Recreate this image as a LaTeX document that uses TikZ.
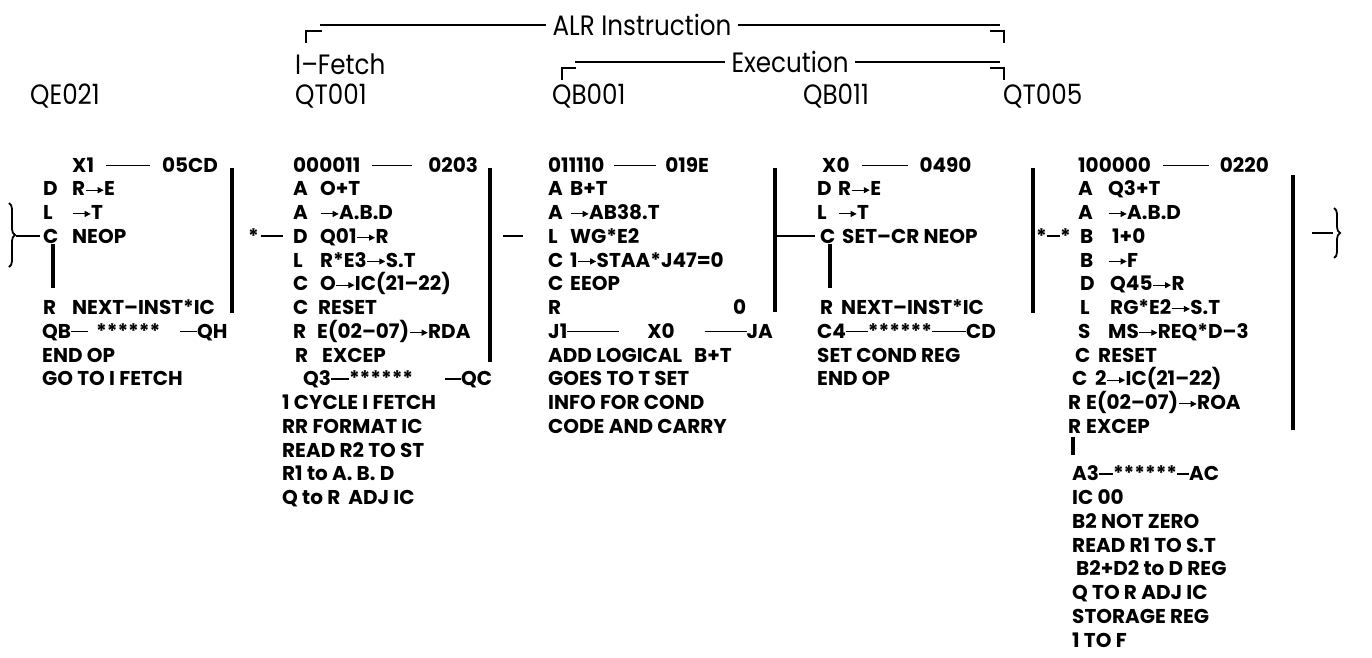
\documentclass[tikz,border=0pt]{standalone}
\usepackage{fontspec}
\setmainfont{Poppins}
\newfontfamily\hdfont[FakeStretch=0.88]{Poppins}
\usetikzlibrary{arrows.meta,decorations.pathreplacing,positioning}

\newcommand{\toarr}{\tikz[baseline=-0.5ex]\draw[line width=1pt,-{Triangle[length=6pt,width=6pt]}] (0pt,0pt) -- (18pt,0pt);}
\newcommand{\hrl}[1]{\rule[0.3em]{#1pt}{1.3pt}}
\newcommand{\op}[3][28]{\makebox[#1pt][l]{#2}#3}

\begin{document}
\begin{tikzpicture}[
    x=1pt, y=-1pt,
    head/.style={anchor=west, inner sep=0pt, font=\hdfont\fontsize{28}{28}\selectfont},
    title/.style={inner sep=0pt, font=\hdfont\fontsize{28}{28}\selectfont},
    txt/.style={anchor=base west, inner sep=0pt, font=\bfseries\fontsize{20}{20}\selectfont},
    bar/.style={line width=3.6pt},
    conn/.style={line width=1.8pt},
    corner/.style={line width=2.6pt}
]
\useasboundingbox (0,0) rectangle (1372,657);

% Headings
\node[title] (alr) at (642,25) {ALR Instruction};
\node[head] (ifetch) at (295,64) {I\textendash Fetch};
\node[title] (exe) at (790,62) {Execution};
\node[head] (qe) at (30,96) {QE021};
\node[head] (qt) at (295,96) {QT001};
\node[head] (qb) at (552,96) {QB001};
\node[head] (qc) at (803,96) {QB011};
\node[head] (qd) at (1003,96) {QT005};

\coordinate (alrL) at (320,25);
\coordinate (alrR) at (1000,25);
\coordinate (exeL) at (575,62);
\coordinate (exeR) at (1000,62);
\draw[conn] (alrL) -- ([xshift=-6pt]alr.west);
\draw[conn] ([xshift=6pt]alr.east) -- (alrR);
\draw[conn] (exeL) -- ([xshift=-6pt]exe.west);
\draw[conn] ([xshift=6pt]exe.east) -- (exeR);
\draw[corner] (306,43) -- (306,31) -- (322,31);
\draw[corner] (990,31) -- (1004,31) -- (1004,43);
\draw[corner] (562,80) -- (562,68) -- (576,68);
\draw[corner] (990,68) -- (1004,68) -- (1004,80);

% QE021
\node[txt] (qe0) at (72,172) {X1\hspace{12pt}\hrl{44}\hspace{12pt}05CD};
\node[txt] (qe1) at (43,195.75) {\op[29]{D}{R\toarr E}};
\node[txt] (qe2) at (43,219.5) {\op[29]{L}{\toarr T}};
\node[txt] (qe3) at (43,243.25) {\op[29]{C}{NEOP}};
\node[txt] (qe6) at (43,314.5) {\op[29]{R}{NEXT--INST*IC}};
\node[txt] (qe7) at (42,338.25) {QB\hrl{17}\hspace{8pt}******\hspace{20pt}\hrl{17}QH};
\node[txt] (qe8) at (42,362) {END OP};
\node[txt] (qe9) at (42,385.75) {GO TO I FETCH};

% QT001
\node[txt] (qt0) at (293,172) {000011\hspace{12pt}\hrl{40}\hspace{16pt}0203};
\node[txt] (qt1) at (293,195.75) {\op[27]{A}{O+T}};
\node[txt] (qt2) at (293,219.5) {\op[27]{A}{\toarr A.B.D}};
\node[txt] (qt3) at (293,243.25) {\op[27]{D}{Q01\toarr R}};
\node[txt] (qt4) at (293,267) {\op[27]{L}{R*E3\toarr S.T}};
\node[txt] (qt5) at (293,290.75) {\op[27]{C}{O\toarr IC(21--22)}};
\node[txt] (qt6) at (293,314.5) {\op[25]{C}{RESET}};
\node[txt] (qt7) at (293,338.25) {\op[24]{R}{E(02--07)\toarr RDA}};
\node[txt] (qt8) at (295,362) {\op[27]{R}{EXCEP}};
\node[txt] (qt9) at (303,385.75) {Q3\hrl{18}******\hspace{32pt}\hrl{16}QC};
\node[txt] (qt10) at (282,409.5) {1 CYCLE I FETCH};
\node[txt] (qt11) at (282,433.25) {RR FORMAT IC};
\node[txt] (qt12) at (282,457) {READ R2 TO ST};
\node[txt] (qt13) at (282,480.75) {R1 to A. B. D};
\node[txt] (qt14) at (282,504.5) {Q to R\hspace{8pt}ADJ IC};

% QB001
\node[txt] (qb0) at (548,172) {011110\hspace{10pt}\hrl{42}\hspace{9pt}019E};
\node[txt] (qb1) at (548,195.75) {\op[22]{A}{B+T}};
\node[txt] (qb2) at (548,219.5) {\op[22]{A}{\toarr AB38.T}};
\node[txt] (qb3) at (548,243.25) {\op[22]{L}{WG*E2}};
\node[txt] (qb4) at (548,267) {\op[22]{C}{1\toarr STAA*J47=0}};
\node[txt] (qb5) at (548,290.75) {\op[22]{C}{EEOP}};
\node[txt] (qb6) at (548,314.5) {\makebox[185pt][l]{R}0};
\node[txt] (qb7) at (548,338.25) {J1\hrl{52}\hspace{28pt}X0\hspace{30pt}\hrl{42}JA};
\node[txt] (qb8) at (548,362) {ADD LOGICAL\hspace{12pt}B+T};
\node[txt] (qb9) at (548,385.75) {GOES TO T SET};
\node[txt] (qb10) at (548,409.5) {INFO FOR COND};
\node[txt] (qb11) at (548,433.25) {CODE AND CARRY};

% QB011
\node[txt] (qc0) at (822,172) {X0\hspace{12pt}\hrl{46}\hspace{12pt}0490};
\node[txt] (qc1) at (817,195.75) {\op[21]{D}{R\toarr E}};
\node[txt] (qc2) at (817,219.5) {\op[21]{L}{\toarr T}};
\node[txt] (qc3) at (820,243.25) {\op[22]{C}{SET--CR NEOP}};
\node[txt] (qc6) at (820,314.5) {\op[21]{R}{NEXT--INST*IC}};
\node[txt] (qc7) at (817,338.25) {C4\hrl{22}******\hrl{34}CD};
\node[txt] (qc8) at (817,362) {SET COND REG};
\node[txt] (qc9) at (817,385.75) {END OP};

% QT005
\node[txt] (qd0) at (1078,172) {100000\hspace{12pt}\hrl{46}\hspace{11pt}0220};
\node[txt] (qd1) at (1078,195.75) {\op[30]{A}{Q3+T}};
\node[txt] (qd2) at (1078,219.5) {\op[30]{A}{\toarr A.B.D}};
\node[txt] (qd3) at (1080,243.25) {\op[32]{B}{1+0}};
\node[txt] (qd4) at (1080,267) {\op[28]{B}{\toarr F}};
\node[txt] (qd5) at (1080,290.75) {\op[30]{D}{Q45\toarr R}};
\node[txt] (qd6) at (1080,314.5) {\op[30]{L}{RG*E2\toarr S.T}};
\node[txt] (qd7) at (1078,338.25) {\op[30]{S}{MS\toarr REQ*D--3}};
\node[txt] (qd8) at (1075,362) {\op[23]{C}{RESET}};
\node[txt] (qd9) at (1072,385.75) {\op[23]{C}{2\toarr IC(21--22)}};
\node[txt] (qd10) at (1068,409.5) {\op[18]{R}{E(02--07)\toarr ROA}};
\node[txt] (qd11) at (1068,433.25) {\op[18]{R}{EXCEP}};
\node[txt] (qd13) at (1072,480.75) {A3\hrl{14}******\hrl{12}AC};
\node[txt] (qd14) at (1072,504.5) {IC 00};
\node[txt] (qd15) at (1072,528.25) {B2 NOT ZERO};
\node[txt] (qd16) at (1072,552) {READ R1 TO S.T};
\node[txt] (qd17) at (1076,575.75) {B2+D2 to D REG};
\node[txt] (qd18) at (1072,599.5) {Q TO R ADJ IC};
\node[txt] (qd19) at (1072,623.25) {STORAGE REG};
\node[txt] (qd20) at (1072,647) {1 TO F};

% Stars of the joins
\node[txt] (st1) at (248,243.25) {*};
\node[txt] (st2) at (1036,243.25) {*};
\node[txt] (st3) at (1060,243.25) {*};

% Bars
\coordinate (b1t) at (232,168);  \coordinate (b1b) at (232,313);
\coordinate (b2t) at (490,168);  \coordinate (b2b) at (490,362);
\coordinate (b3t) at (775,168);  \coordinate (b3b) at (775,312);
\coordinate (b4t) at (1033,168); \coordinate (b4b) at (1033,313);
\coordinate (b5t) at (1293,175); \coordinate (b5b) at (1293,430);
\draw[bar] (b1t) -- (b1b);
\draw[bar] (b2t) -- (b2b);
\draw[bar] (b3t) -- (b3b);
\draw[bar] (b4t) -- (b4b);
\draw[bar] (b5t) -- (b5b);

% Joins
\coordinate (cA) at (40,236);
\coordinate (cAd) at (53,244);
\coordinate (cAe) at (53,288);
\coordinate (j1) at (283,236);
\coordinate (j2a) at (503,236);
\coordinate (j2b) at (523,236);
\coordinate (cB) at (815,236);
\coordinate (cBd) at (830,244);
\coordinate (cBe) at (830,288);
\coordinate (exA) at (1073,437);
\coordinate (exB) at (1073,455);
\coordinate (outR) at (1312,233);
\coordinate (outB) at (1333,233);
\draw[conn, decorate, decoration={brace, amplitude=6pt}] (9,203) -- (9,267);
\draw[conn] (16,236) -- (cA);
\draw[bar] (cAd) -- (cAe);
\draw[conn] ([xshift=2pt]st1.east |- j1) -- (j1);
\draw[conn] (j2a) -- (j2b);
\draw[conn] (b3t |- cB) -- (cB);
\draw[bar] (cBd) -- (cBe);
\draw[conn] (st2.east |- cB) -- (st3.west |- cB);
\draw[bar] (exA) -- (exB);
\draw[conn] (outR) -- (outB);
\draw[conn, decorate, decoration={brace, amplitude=6pt}] (1334,208) -- (1334,258);

\end{tikzpicture}
\end{document}
